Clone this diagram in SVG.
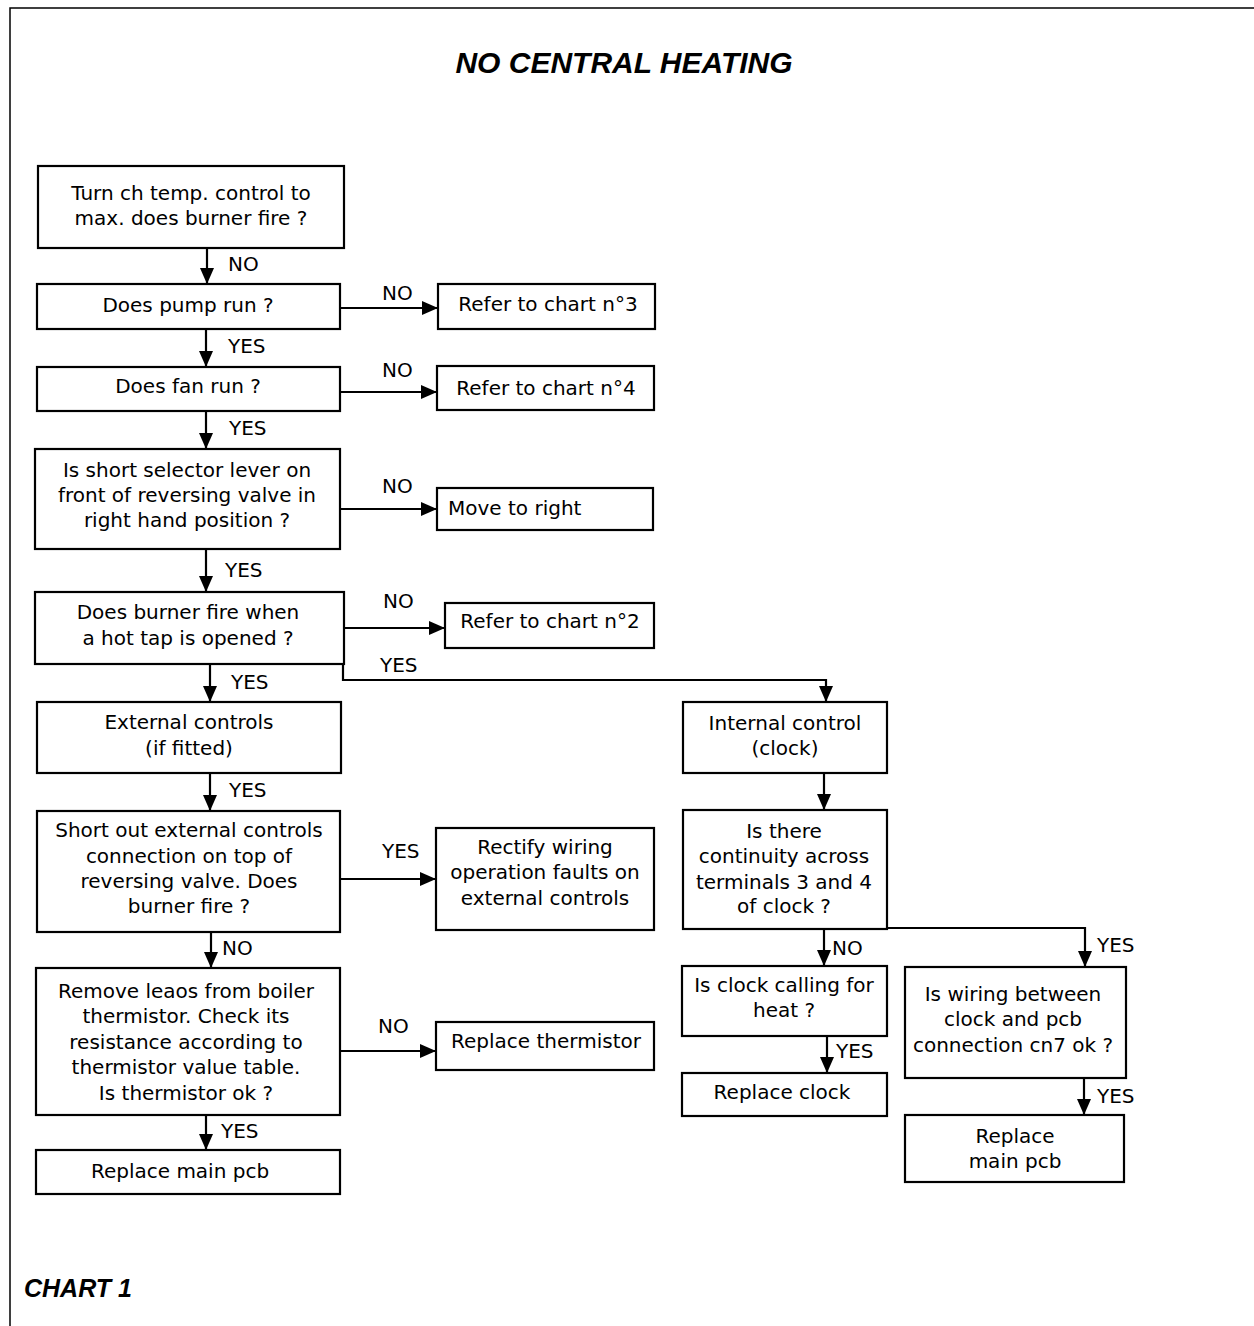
<svg xmlns="http://www.w3.org/2000/svg" width="1254" height="1326" viewBox="0 0 1254 1326">
<style>
.bx{fill:#fff;stroke:#000;stroke-width:2.2}
.t{font-family:"DejaVu Sans","Liberation Sans",sans-serif;font-size:20px;fill:#000;text-anchor:middle}
.l{font-family:"DejaVu Sans","Liberation Sans",sans-serif;font-size:20px;fill:#000}
.c{fill:none;stroke:#000;stroke-width:2.2}
.h{font-family:"Liberation Sans",Arial,sans-serif;font-weight:bold;font-style:italic;fill:#000}
</style>
<defs>
<marker id="ah" markerUnits="userSpaceOnUse" markerWidth="16" markerHeight="14" refX="16" refY="7" orient="auto">
<path d="M0,0 L16,7 L0,14 z" fill="#000"/>
</marker>
</defs>
<rect width="1254" height="1326" fill="#fff"/>
<path d="M10,1326 V8 H1254" fill="none" stroke="#000" stroke-width="1.5"/>
<text class="h" x="624" y="73" font-size="30" text-anchor="middle">NO CENTRAL HEATING</text>
<text class="h" x="24" y="1297" font-size="25">CHART 1</text>

<g id="connectors">
<path class="c" d="M207,248 V284" marker-end="url(#ah)"/>
<path class="c" d="M340,308 H438" marker-end="url(#ah)"/>
<path class="c" d="M206,329 V367" marker-end="url(#ah)"/>
<path class="c" d="M340,392 H437" marker-end="url(#ah)"/>
<path class="c" d="M206,411 V449" marker-end="url(#ah)"/>
<path class="c" d="M340,509 H437" marker-end="url(#ah)"/>
<path class="c" d="M206,549 V592" marker-end="url(#ah)"/>
<path class="c" d="M344,628 H445" marker-end="url(#ah)"/>
<path class="c" d="M343,664 V680 H826 V702" marker-end="url(#ah)"/>
<path class="c" d="M210,664 V702" marker-end="url(#ah)"/>
<path class="c" d="M210,773 V811" marker-end="url(#ah)"/>
<path class="c" d="M340,879 H436" marker-end="url(#ah)"/>
<path class="c" d="M211,932 V968" marker-end="url(#ah)"/>
<path class="c" d="M340,1051 H436" marker-end="url(#ah)"/>
<path class="c" d="M206,1115 V1150" marker-end="url(#ah)"/>
<path class="c" d="M824,773 V810" marker-end="url(#ah)"/>
<path class="c" d="M887,928 H1085 V967" marker-end="url(#ah)"/>
<path class="c" d="M824,929 V966" marker-end="url(#ah)"/>
<path class="c" d="M827,1036 V1073" marker-end="url(#ah)"/>
<path class="c" d="M1084,1078 V1115" marker-end="url(#ah)"/>
<text class="l" x="228" y="271">NO</text>
<text class="l" x="382" y="300">NO</text>
<text class="l" x="228" y="353">YES</text>
<text class="l" x="382" y="377">NO</text>
<text class="l" x="229" y="435">YES</text>
<text class="l" x="382" y="493">NO</text>
<text class="l" x="225" y="577">YES</text>
<text class="l" x="383" y="608">NO</text>
<text class="l" x="380" y="672">YES</text>
<text class="l" x="231" y="689">YES</text>
<text class="l" x="229" y="797">YES</text>
<text class="l" x="382" y="858">YES</text>
<text class="l" x="222" y="955">NO</text>
<text class="l" x="378" y="1033">NO</text>
<text class="l" x="221" y="1138">YES</text>
<text class="l" x="832" y="955">NO</text>
<text class="l" x="1097" y="952">YES</text>
<text class="l" x="836" y="1058">YES</text>
<text class="l" x="1097" y="1103">YES</text>
</g>

<g id="n1"><rect class="bx" x="38" y="166" width="306" height="82"/>
<text class="t" x="191" y="200">Turn ch temp. control to</text>
<text class="t" x="191" y="225">max. does burner fire ?</text></g>
<g id="n2"><rect class="bx" x="37" y="284" width="303" height="45"/>
<text class="t" x="188" y="312">Does pump run ?</text></g>
<g id="n3"><rect class="bx" x="438" y="284" width="217" height="45"/>
<text class="t" x="548" y="311">Refer to chart n°3</text></g>
<g id="n4"><rect class="bx" x="37" y="367" width="303" height="44"/>
<text class="t" x="188" y="393">Does fan run ?</text></g>
<g id="n5"><rect class="bx" x="437" y="366" width="217" height="44"/>
<text class="t" x="546" y="395">Refer to chart n°4</text></g>
<g id="n6"><rect class="bx" x="35" y="449" width="305" height="100"/>
<text class="t" x="187" y="477">Is short selector lever on</text>
<text class="t" x="187" y="502">front of reversing valve in</text>
<text class="t" x="187" y="527">right hand position ?</text></g>
<g id="n7"><rect class="bx" x="437" y="488" width="216" height="42"/>
<text class="l" x="448" y="515">Move to right</text></g>
<g id="n8"><rect class="bx" x="35" y="592" width="309" height="72"/>
<text class="t" x="188" y="619">Does burner fire when</text>
<text class="t" x="188" y="645">a hot tap is opened ?</text></g>
<g id="n9"><rect class="bx" x="445" y="603" width="209" height="45"/>
<text class="t" x="550" y="628">Refer to chart n°2</text></g>
<g id="n10"><rect class="bx" x="37" y="702" width="304" height="71"/>
<text class="t" x="189" y="729">External controls</text>
<text class="t" x="189" y="755">(if fitted)</text></g>
<g id="n11"><rect class="bx" x="683" y="702" width="204" height="71"/>
<text class="t" x="785" y="730">Internal control</text>
<text class="t" x="785" y="755">(clock)</text></g>
<g id="n12"><rect class="bx" x="37" y="811" width="303" height="121"/>
<text class="t" x="189" y="837">Short out external controls</text>
<text class="t" x="189" y="863">connection on  top of</text>
<text class="t" x="189" y="888">reversing valve. Does</text>
<text class="t" x="189" y="913">burner fire ?</text></g>
<g id="n13"><rect class="bx" x="436" y="828" width="218" height="102"/>
<text class="t" x="545" y="854">Rectify wiring</text>
<text class="t" x="545" y="879">operation faults on</text>
<text class="t" x="545" y="905">external controls</text></g>
<g id="n14"><rect class="bx" x="36" y="968" width="304" height="147"/>
<text class="t" x="186" y="998">Remove leaos from boiler</text>
<text class="t" x="186" y="1023">thermistor. Check its</text>
<text class="t" x="186" y="1049">resistance according to</text>
<text class="t" x="186" y="1074">thermistor value table.</text>
<text class="t" x="186" y="1100">Is thermistor ok ?</text></g>
<g id="n15"><rect class="bx" x="436" y="1022" width="218" height="48"/>
<text class="t" x="546" y="1048">Replace thermistor</text></g>
<g id="n16"><rect class="bx" x="36" y="1150" width="304" height="44"/>
<text class="t" x="180" y="1178">Replace main pcb</text></g>
<g id="n17"><rect class="bx" x="683" y="810" width="204" height="119"/>
<text class="t" x="784" y="838">Is there</text>
<text class="t" x="784" y="863">continuity across</text>
<text class="t" x="784" y="889">terminals 3 and 4</text>
<text class="t" x="784" y="913">of clock ?</text></g>
<g id="n18"><rect class="bx" x="682" y="966" width="205" height="70"/>
<text class="t" x="784" y="992">Is clock calling for</text>
<text class="t" x="784" y="1017">heat ?</text></g>
<g id="n19"><rect class="bx" x="682" y="1073" width="205" height="43"/>
<text class="t" x="782" y="1099">Replace clock</text></g>
<g id="n20"><rect class="bx" x="905" y="967" width="221" height="111"/>
<text class="t" x="1013" y="1001">Is wiring between</text>
<text class="t" x="1013" y="1026">clock and pcb</text>
<text class="t" x="1013" y="1052">connection cn7 ok ?</text></g>
<g id="n21"><rect class="bx" x="905" y="1115" width="219" height="67"/>
<text class="t" x="1015" y="1143">Replace</text>
<text class="t" x="1015" y="1168">main pcb</text></g>
</svg>
